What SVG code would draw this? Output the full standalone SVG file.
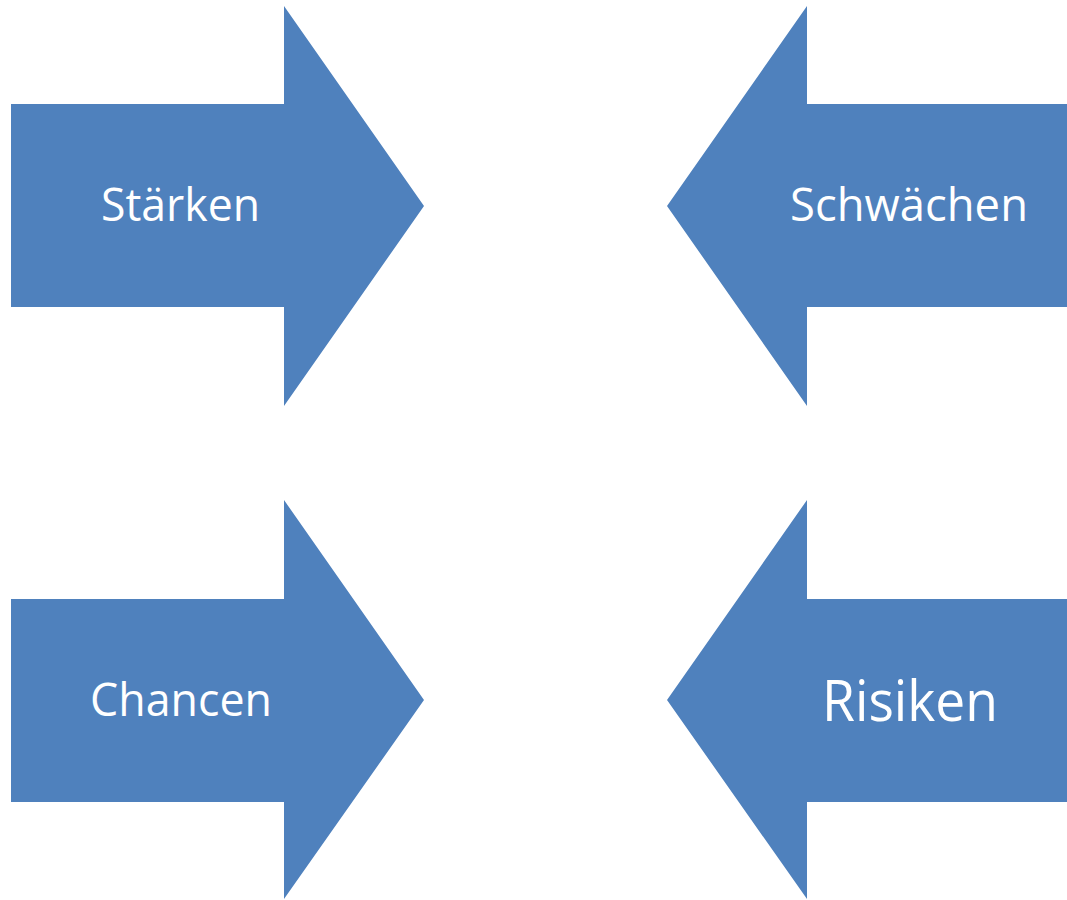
<svg xmlns="http://www.w3.org/2000/svg" width="1067" height="900" viewBox="0 0 1067 900">
<style>
.arrow{fill:#4F81BD;}
.lbl{fill:#FFFFFF;font-family:"Open Sans","Liberation Sans",sans-serif;font-size:46px;}
.big{font-size:56px;}
</style>
<rect width="1067" height="900" fill="#FFFFFF"/>
<g id="connectors"></g>
<g id="staerken">
<polygon class="arrow" points="11,104 284,104 284,6 424,206 284,406 284,307 11,307"/>
<text class="lbl" x="101" y="221" textLength="159" lengthAdjust="spacingAndGlyphs">Stärken</text>
</g>
<g id="schwaechen">
<polygon class="arrow" points="1067,104 807,104 807,6 667,206 807,406 807,307 1067,307"/>
<text class="lbl" x="790" y="221" textLength="238" lengthAdjust="spacingAndGlyphs">Schwächen</text>
</g>
<g id="chancen">
<polygon class="arrow" points="11,599 284,599 284,500 424,700 284,899 284,802 11,802"/>
<text class="lbl" x="90" y="716" textLength="182" lengthAdjust="spacingAndGlyphs">Chancen</text>
</g>
<g id="risiken">
<polygon class="arrow" points="1067,599 807,599 807,500 667,700 807,899 807,802 1067,802"/>
<text class="lbl big" x="822" y="721" textLength="176" lengthAdjust="spacingAndGlyphs">Risiken</text>
</g>
</svg>
